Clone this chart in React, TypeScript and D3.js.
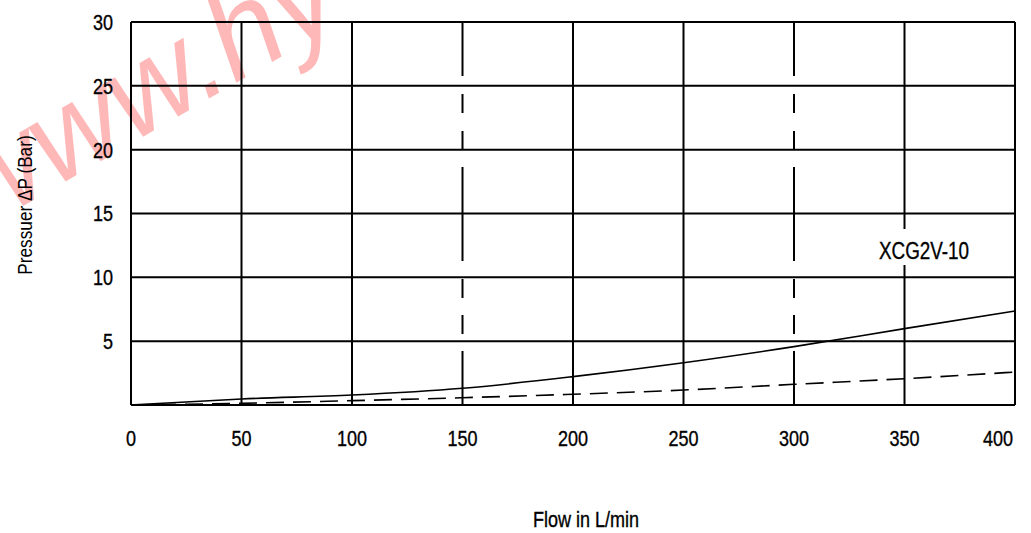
import React from "react";
import * as d3 from "d3";

const flowTicks = [0, 50, 100, 150, 200, 250, 300, 350, 400];
const dashedFlowGrid = [150, 300];
const pressureTicks = [5, 10, 15, 20, 25, 30];

const flowPoints = [0, 50, 100, 150, 200, 250, 300, 350, 400];
const solidPressure = [0, 0.47, 0.78, 1.31, 2.22, 3.31, 4.57, 5.98, 7.36];
const dashedPressure = [0, 0.13, 0.34, 0.57, 0.84, 1.17, 1.62, 2.06, 2.58];

const seriesLabel = "XCG2V-10";
const xTitle = "Flow in L/min";
const yTitle = "Pressuer ΔP (Bar)";
const watermark = "www.hy";

const W = 1031;
const H = 533;
const L = 131;
const R = 1015;
const T = 22;
const B = 405;
const FONT = "'Liberation Sans', Arial, sans-serif";
const NARROW = 0.82;

function NText(props: {
  x: number;
  y: number;
  anchor?: "start" | "middle" | "end";
  size: number;
  dy?: string;
  children: React.ReactNode;
}) {
  const { x, y, anchor = "start", size, dy, children } = props;
  return (
    <text
      transform={`translate(${x},${y}) scale(${NARROW},1)`}
      textAnchor={anchor}
      fontSize={size}
      fontFamily={FONT}
      fill="#000"
      stroke="#000"
      strokeWidth={0.35}
      dy={dy}
    >
      {children}
    </text>
  );
}

export default function App() {
  const x = d3.scaleLinear().domain([0, 400]).range([L, R]);
  const y = d3.scaleLinear().domain([0, 30]).range([B, T]);

  const line = d3
    .line<[number, number]>()
    .x((d) => x(d[0]))
    .y((d) => y(d[1]))
    .curve(d3.curveMonotoneX);

  const solidPath = line(flowPoints.map((f, i) => [f, solidPressure[i]] as [number, number])) || "";
  const dashedPath = line(flowPoints.map((f, i) => [f, dashedPressure[i]] as [number, number])) || "";

  return (
    <svg
      width={W}
      height={H}
      style={{ position: "absolute", left: 0, top: 0, display: "block", background: "#fff" }}
    >
      <rect x={0} y={0} width={W} height={H} fill="#fff" />
      {/* watermark */}
      <text
        transform="translate(-22,232) rotate(-30)"
        fontFamily="'Liberation Sans', Arial, sans-serif"
        fontStyle="italic"
        fontSize={124}
        fill="rgba(255,0,0,0.28)"
      >
        {watermark}
      </text>

      {/* horizontal grid */}
      {pressureTicks.map((p) => (
        <line key={"h" + p} x1={L} x2={R} y1={y(p)} y2={y(p)} stroke="#000" strokeWidth={2} />
      ))}
      <line x1={L} x2={R} y1={y(0)} y2={y(0)} stroke="#000" strokeWidth={2} />

      {/* vertical grid */}
      {flowTicks.map((f) => (
        <line
          key={"v" + f}
          x1={x(f)}
          x2={x(f)}
          y1={T}
          y2={B}
          stroke="#000"
          strokeWidth={2}
          strokeDasharray={dashedFlowGrid.includes(f) ? "54 18 19 18 19 17 94 18 19 17 19 17 60" : undefined}
        />
      ))}

      {/* series label with white backing */}
      <rect x={876} y={229} width={96} height={36} fill="#fff" />
      <NText x={924} y={259} anchor="middle" size={23}>
        {seriesLabel}
      </NText>

      {/* curves */}
      <path d={dashedPath} fill="none" stroke="#000" strokeWidth={1.6} strokeDasharray="18 9" />
      <path d={solidPath} fill="none" stroke="#000" strokeWidth={1.6} />

      {/* y tick labels */}
      {pressureTicks.map((p) => (
        <NText key={"yl" + p} x={113} y={y(p)} dy="0.36em" anchor="end" size={22}>
          {p}
        </NText>
      ))}

      {/* x tick labels */}
      {flowTicks.map((f, i) => (
        <NText
          key={"xl" + f}
          x={i === flowTicks.length - 1 ? x(f) - 2 : x(f)}
          y={446}
          anchor={i === flowTicks.length - 1 ? "end" : "middle"}
          size={22}
        >
          {f}
        </NText>
      ))}

      {/* axis titles */}
      <NText x={586} y={527} anchor="middle" size={22}>
        {xTitle}
      </NText>
      <text
        transform="translate(32,205) rotate(-90) scale(0.82,1)"
        textAnchor="middle"
        fontSize={21}
        fontFamily={FONT}
        fill="#000"
      >
        {yTitle}
      </text>
    </svg>
  );
}
